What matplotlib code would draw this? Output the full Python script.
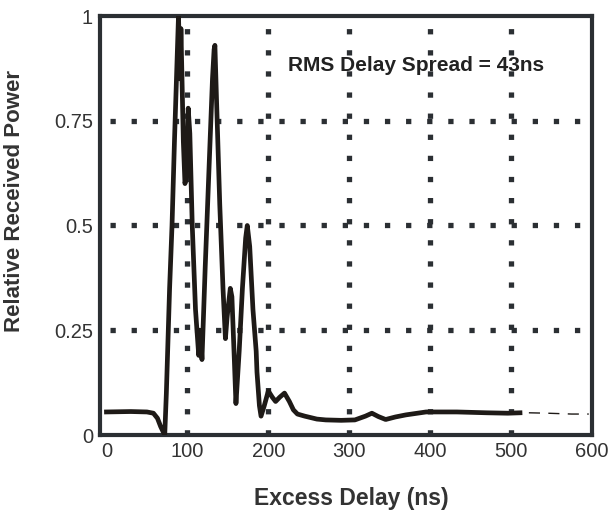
import numpy as np
import matplotlib
matplotlib.use("Agg")
import matplotlib.pyplot as plt

plt.rcParams['font.family'] = ['Liberation Sans', 'DejaVu Sans']

# power delay profile
delay_ns = [0, 30, 50, 58, 63, 67, 72, 74, 78, 81, 84, 87, 89, 91, 92, 95, 97, 99,
            101, 103, 106, 110, 114, 116, 118, 122, 127, 131, 133, 134, 136, 140,
            144, 147, 149, 153, 155, 158, 160, 164, 168, 172, 174, 177, 181, 185,
            186, 189, 191, 195, 200, 205, 209, 214, 220, 226, 231, 236, 245, 260,
            271, 290, 307, 320, 328, 336, 345, 357, 370, 395, 433, 470, 496, 511]
power = [0.055, 0.056, 0.055, 0.052, 0.04, 0.02, 0.0, 0.1, 0.35, 0.5, 0.7, 0.88,
         1.0, 0.85, 0.97, 0.7, 0.6, 0.62, 0.78, 0.72, 0.5, 0.3, 0.19, 0.25, 0.18,
         0.4, 0.65, 0.85, 0.92, 0.93, 0.8, 0.55, 0.35, 0.23, 0.28, 0.35, 0.33,
         0.18, 0.075, 0.2, 0.35, 0.47, 0.5, 0.45, 0.3, 0.2, 0.15, 0.07, 0.045,
         0.07, 0.105, 0.09, 0.08, 0.09, 0.1, 0.08, 0.06, 0.05, 0.045, 0.038,
         0.036, 0.035, 0.036, 0.045, 0.052, 0.044, 0.037, 0.043, 0.048, 0.055,
         0.055, 0.053, 0.052, 0.053]

# faint dashed tail past the end of the solid trace
tail_ns = [522, 545, 560, 575, 596]
tail_power = [0.053, 0.052, 0.051, 0.050, 0.050]

xticks = [0, 100, 200, 300, 400, 500, 600]
yticks = [0, 0.25, 0.5, 0.75, 1]
yticklabels = ['0', '0.25', '0.5', '0.75', '1']

dark = '#2b2f33'
ink = '#1e1a17'

fig = plt.figure(figsize=(6.08, 5.11), dpi=100)
ax = fig.add_axes([100/608, 76/511, 492/608, 419/511])

# dotted grid (square dots)
for gx in xticks[1:-1]:
    ax.plot([gx, gx], [0, 1], color=dark, lw=3.8, ls=(0, (1, 3.0)), zorder=1)
for gy in yticks[1:-1]:
    ax.plot([4, 600], [gy, gy], color=dark, lw=3.8, ls=(0, (1, 3.0)), zorder=1)

ax.plot(delay_ns, power, color=ink, lw=3.4, solid_joinstyle='round', zorder=3)
ax.plot(tail_ns, tail_power, color=ink, lw=1.0, ls=(0, (8, 6)), zorder=3)

ax.set_xlim(-8, 600)
ax.set_ylim(0, 1)
ax.set_xticks(xticks)
ax.set_yticks(yticks)
ax.set_yticklabels(yticklabels)
ax.tick_params(length=0, labelsize=14.5, colors='#333333', pad=5)
for s in ax.spines.values():
    s.set_linewidth(3)
    s.set_color(dark)

ax.set_xlabel('Excess Delay (ns)', fontsize=16.5, fontweight='bold', color='#333333')
ax.xaxis.set_label_coords(0.51, -0.125)
ax.set_ylabel('Relative Received Power', fontsize=16, fontweight='bold', color='#333333')
ax.yaxis.set_label_coords(-0.152, 0.558)

ax.text(0.382, 0.883, 'RMS Delay Spread = 43ns', transform=ax.transAxes,
        fontsize=15, fontweight='bold', color='#222222', ha='left', va='center')

fig.savefig('out.png', dpi=100)
